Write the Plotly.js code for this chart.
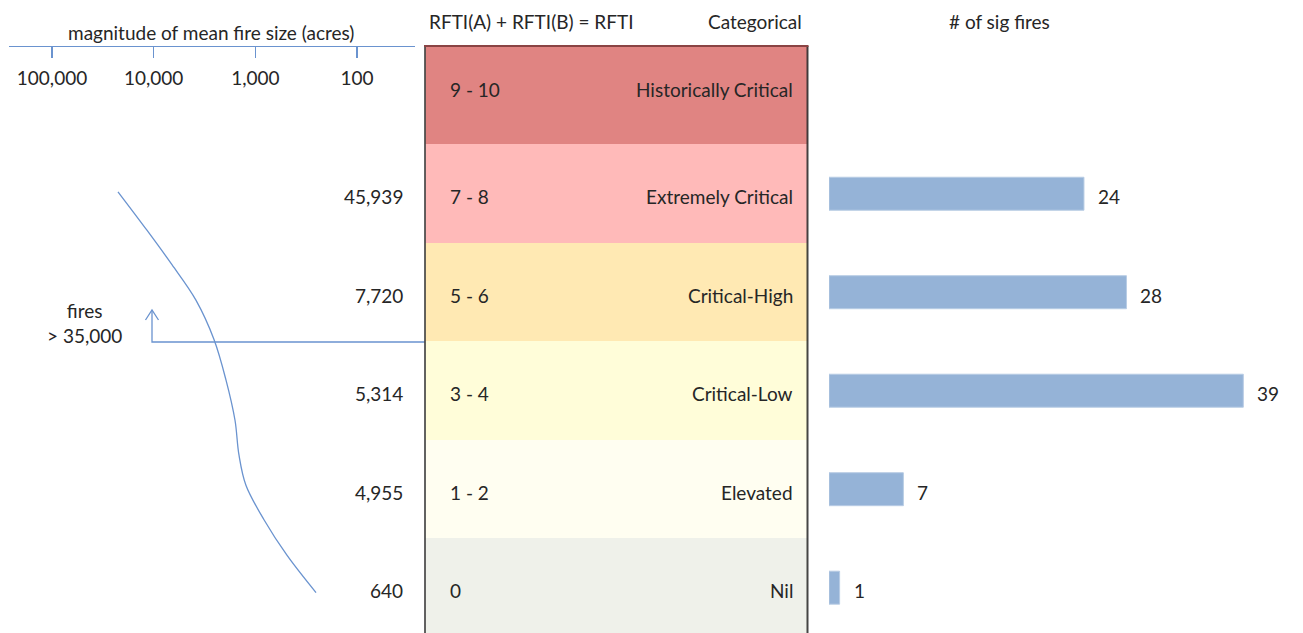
<!DOCTYPE html>
<html>
<head>
<meta charset="utf-8">
<script src="https://cdn.plot.ly/plotly-3.0.1.min.js"></script>
<style>html,body{margin:0;padding:0;background:#fff;}#chart{width:1303px;height:633px;}</style>
</head>
<body>
<div id="chart"></div>
<script>
// ---------------- DATA ----------------
// rows from bottom (index 0) to top (index 5)
const categories   = ['Nil', 'Elevated', 'Critical-Low', 'Critical-High', 'Extremely Critical', 'Historically Critical'];
const rftiRanges   = ['0', '1 - 2', '3 - 4', '5 - 6', '7 - 8', '9 - 10'];
const meanFireSize = [640, 4955, 5314, 7720, 45939, null];
const sigFires     = [1, 7, 39, 28, 24, null];

// schematic trend curve on the log "magnitude of mean fire size" axis
const curveRow   = [4.02, 3.63, 3.28, 2.92, 2.52, 2.11, 1.70, 1.35, 1.04, 0.69, 0.33, -0.05];
const curveAcres = [22440, 11650, 6610, 3840, 2550, 1945, 1585, 1450, 1237, 822, 489, 253];

const magTickVals  = [100000, 10000, 1000, 100];
const magTickText  = ['100,000', '10,000', '1,000', '100'];

const arrowLabel = 'fires<br>> 35,000';

// ---------------- STYLE ----------------
const W = 1303, H = 633;
const PX = x => x / W;
const PY = y => 1 - y / H;
const FONT = 'Lato, "Open Sans", sans-serif';
const FS = 19;
const TXT = '#262626';
const BLUE = '#6A93CF';
const bandColors = ['#EFF1EA', '#FFFEF1', '#FFFDD9', '#FFE9B3', '#FFBAB9', '#E08482'];
const rowIdx = categories.map((c, i) => i);
const rowShift = i => (i === 5 ? 6 : -3);

const traces = [
  // table bands
  {
    type: 'bar', orientation: 'h', xaxis: 'x2', yaxis: 'y',
    y: rowIdx, x: categories.map(() => 1), width: 1,
    marker: {color: bandColors, line: {width: 0}},
    hoverinfo: 'skip', showlegend: false
  },
  // # of sig fires
  {
    type: 'bar', orientation: 'h', xaxis: 'x3', yaxis: 'y',
    y: rowIdx, x: sigFires, width: 0.335,
    marker: {color: '#95B3D7', line: {color: '#B8CCE4', width: 1}},
    hoverinfo: 'skip', showlegend: false
  },
  // trend curve
  {
    type: 'scatter', mode: 'lines', xaxis: 'x', yaxis: 'y',
    x: curveAcres, y: curveRow,
    line: {color: BLUE, width: 1.3, shape: 'spline', smoothing: 1},
    hoverinfo: 'skip', showlegend: false, cliponaxis: false
  }
];

const annotations = [];
const font = {family: FONT, size: FS, color: TXT};
rowIdx.forEach(i => {
  annotations.push({xref: 'paper', yref: 'y', x: PX(448), y: i, text: rftiRanges[i],
    xanchor: 'left', yanchor: 'middle', showarrow: false, font, yshift: rowShift(i)});
  annotations.push({xref: 'paper', yref: 'y', x: PX(795), y: i, text: categories[i],
    xanchor: 'right', yanchor: 'middle', showarrow: false, font, yshift: rowShift(i)});
  if (meanFireSize[i] != null) {
    annotations.push({xref: 'paper', yref: 'y', x: PX(405), y: i,
      text: meanFireSize[i].toLocaleString('en-US'),
      xanchor: 'right', yanchor: 'middle', showarrow: false, font, yshift: rowShift(i)});
  }
  if (sigFires[i] != null) {
    annotations.push({xref: 'x3', yref: 'y', x: sigFires[i], y: i, text: String(sigFires[i]),
      xanchor: 'left', yanchor: 'middle', showarrow: false, font, xshift: 12, yshift: rowShift(i)});
  }
});
// headers
annotations.push({xref: 'paper', yref: 'paper', x: PX(211), y: PY(33), text: 'magnitude of mean fire size (acres)',
  xanchor: 'center', yanchor: 'middle', showarrow: false, font});
annotations.push({xref: 'paper', yref: 'paper', x: PX(427), y: PY(22), text: 'RFTI(A) + RFTI(B) = RFTI',
  xanchor: 'left', yanchor: 'middle', showarrow: false, font});
annotations.push({xref: 'paper', yref: 'paper', x: PX(804), y: PY(22), text: 'Categorical',
  xanchor: 'right', yanchor: 'middle', showarrow: false, font});
annotations.push({xref: 'paper', yref: 'paper', x: PX(999), y: PY(22), text: '# of sig fires',
  xanchor: 'center', yanchor: 'middle', showarrow: false, font});
annotations.push({xref: 'paper', yref: 'paper', x: PX(84), y: PY(323), text: arrowLabel,
  xanchor: 'center', yanchor: 'middle', showarrow: false, font, align: 'center'});

const shapes = [
  // connector + open arrowhead
  {type: 'path', xref: 'paper', yref: 'paper',
   path: `M ${PX(425)} ${PY(342)} L ${PX(152)} ${PY(342)} L ${PX(152)} ${PY(310)}`,
   line: {color: BLUE, width: 1.3}},
  {type: 'path', xref: 'paper', yref: 'paper',
   path: `M ${PX(145.5)} ${PY(320)} L ${PX(152)} ${PY(310)} L ${PX(158.5)} ${PY(320)}`,
   line: {color: BLUE, width: 1.3}},
  // table borders
  {type: 'line', xref: 'paper', yref: 'paper', x0: PX(425), x1: PX(425), y0: PY(46), y1: 0,
   line: {color: 'rgba(70,70,70,0.85)', width: 2}},
  {type: 'line', xref: 'paper', yref: 'paper', x0: PX(807.5), x1: PX(807.5), y0: PY(46), y1: 0,
   line: {color: 'rgba(50,50,50,0.9)', width: 2}},
  {type: 'line', xref: 'paper', yref: 'paper', x0: PX(424), x1: PX(808.5), y0: PY(46), y1: PY(46),
   line: {color: '#8A4444', width: 2}}
];

const hidden = {showgrid: false, zeroline: false, showline: false, showticklabels: false, ticks: '', fixedrange: true};

const layout = {
  width: W, height: H,
  margin: {l: 0, r: 0, t: 0, b: 0, pad: 0},
  paper_bgcolor: '#ffffff', plot_bgcolor: 'rgba(0,0,0,0)',
  font: {family: FONT, color: TXT},
  showlegend: false,
  bargap: 0,
  yaxis: Object.assign({}, hidden, {domain: [0, PY(46)], range: [-0.46, 5.5], anchor: 'x'}),
  xaxis: {
    type: 'log', domain: [PX(9), PX(415)], range: [5.423, 1.4295],
    anchor: 'free', position: PY(46), side: 'bottom',
    showline: true, linecolor: BLUE, linewidth: 1.3,
    ticks: 'outside', ticklen: 11, tickcolor: BLUE, tickwidth: 1.3,
    tickvals: magTickVals, ticktext: magTickText,
    tickfont: {family: FONT, size: FS, color: TXT},
    ticklabelstandoff: 4,
    showgrid: false, zeroline: false, fixedrange: true
  },
  xaxis2: Object.assign({}, hidden, {domain: [PX(425), PX(808)], range: [0, 1], anchor: 'y'}),
  xaxis3: Object.assign({}, hidden, {domain: [PX(829), 1], anchor: 'y'}),
  annotations, shapes
};
// bars axis: 0 -> 829px and 40.1 -> 1255px over a domain that ends at the right edge
layout.xaxis3.range = [0, 40.1 * (W - 829) / (1255 - 829)];

Plotly.newPlot('chart', traces, layout, {staticPlot: true, displayModeBar: false});
</script>
</body>
</html>
